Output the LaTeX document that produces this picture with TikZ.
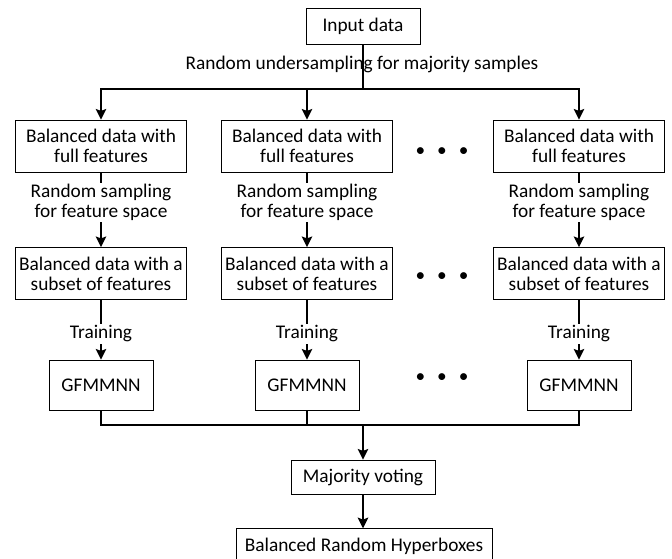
\documentclass[tikz,border=0pt]{standalone}
\usepackage{fontspec}
\setmainfont{Carlito}
\usepackage{tikz}
\usetikzlibrary{positioning,arrows.meta}
\tikzset{
    >={Stealth[length=8pt, width=8pt, inset=1.5pt]},
    box/.style={
        rectangle,
        draw, line width=0.6pt,
        align=center,
        inner sep=2pt
    },
    datbox/.style={box, minimum width=128pt, minimum height=39pt},
    netbox/.style={box, minimum width=78pt, minimum height=37.5pt},
    line/.style={draw, line width=1.1pt, ->},
    bus/.style={draw, line width=1.1pt},
    note/.style={fill=white, align=center, inner sep=1pt},
    dots/.style={inner sep=0pt},
    font={\fontsize{14.5pt}{15pt}\selectfont},
}

\begin{document}
\begin{tikzpicture}[x=0.75pt, y=-0.75pt]
\useasboundingbox (0,0) rectangle (672,559);
\node(input)[box, minimum width=85.5pt, minimum height=27pt] at (363,26) {Input data};
\node(under)[inner sep=0pt] at (362,64) {Random undersampling for majority samples};
\coordinate (split) at (363,89);
% first row
\node(full1)[datbox] at (101,146) {Balanced data with\\full features};
\node(full2)[datbox] at (307,146) {Balanced data with\\full features};
\node(full3)[datbox] at (579,146) {Balanced data with\\full features};
% second row
\node(sub1)[datbox] at (101,273.5) {Balanced data with a\\subset of features};
\node(sub2)[datbox] at (307,273.5) {Balanced data with a\\subset of features};
\node(sub3)[datbox] at (579,273.5) {Balanced data with a\\subset of features};
% classifiers
\node(net1)[netbox] at (101,385) {GFMMNN};
\node(net2)[netbox] at (307,385) {GFMMNN};
\node(net3)[netbox] at (579,385) {GFMMNN};
\node(dotsA)[dots] at (442,152) {\textbullet\hspace{9pt}\textbullet\hspace{9pt}\textbullet};
\node(dotsB)[dots] at (442,277) {\textbullet\hspace{9pt}\textbullet\hspace{9pt}\textbullet};
\node(dotsC)[dots] at (442,378) {\textbullet\hspace{9pt}\textbullet\hspace{9pt}\textbullet};
\coordinate (merge) at (363,425);
\node(vote)[box, minimum width=108pt, minimum height=25.5pt] at (363,477) {Majority voting};
\node(final)[box, minimum width=192pt, minimum height=26pt] at (364,546) {Balanced Random Hyperboxes};

\draw[bus] (input) -- (split);
\draw[line] (split) -| (full1.north);
\draw[line] (split) -| (full3.north);
\draw[line] (full2.north |- split) -- (full2.north);

\draw[line] (full1) -- node(samp1)[note, pos=0.4]{Random sampling\\for feature space} (sub1);
\draw[line] (full2) -- node(samp2)[note, pos=0.4]{Random sampling\\for feature space} (sub2);
\draw[line] (full3) -- node(samp3)[note, pos=0.4]{Random sampling\\for feature space} (sub3);

\draw[line] (sub1) -- node(train1)[note, pos=0.57]{Training} (net1);
\draw[line] (sub2) -- node(train2)[note, pos=0.57]{Training} (net2);
\draw[line] (sub3) -- node(train3)[note, pos=0.57]{Training} (net3);

\draw[bus] (net1.south) |- (merge) -| (net3.south);
\draw[bus] (net2.south) -- (net2.south |- merge);
\draw[line] (merge) -- (vote);
\draw[line] (vote.south) -- (vote.south |- final.north);
\end{tikzpicture}
\end{document}
